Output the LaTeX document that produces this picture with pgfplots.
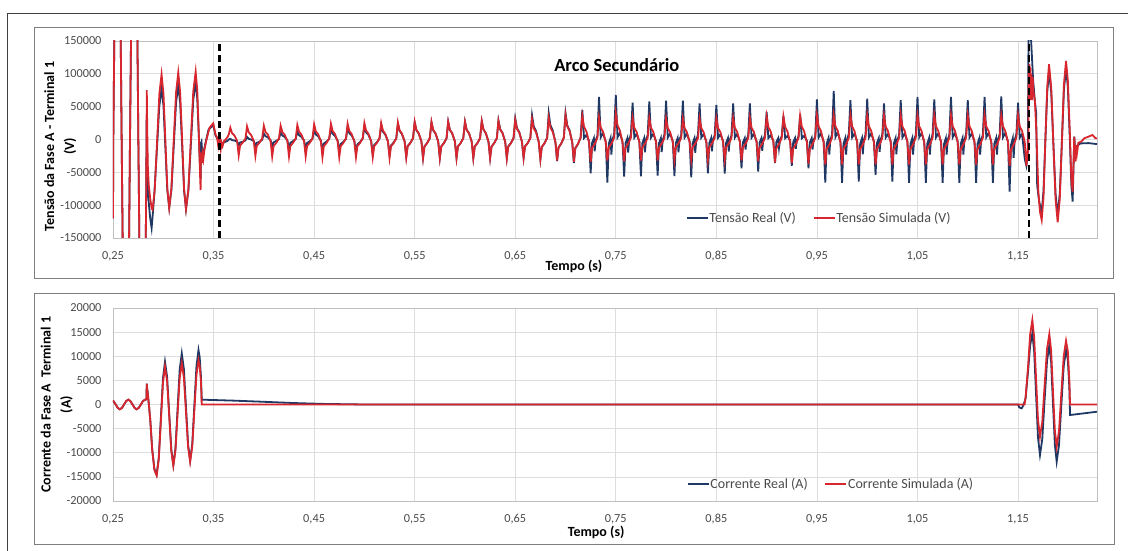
\documentclass[border=0pt]{standalone}
\usepackage{fontspec}
\setmainfont{Carlito}
\usepackage{pgfplots}
\pgfplotsset{compat=1.18}

\definecolor{real}{HTML}{1F3864}
\definecolor{sim}{HTML}{D7262E}
\definecolor{gridc}{HTML}{DDDDDD}
\definecolor{axisc}{HTML}{BFBFBF}
\definecolor{tickc}{HTML}{4A4A4A}
\definecolor{boxc}{HTML}{7F7F7F}

\pgfplotsset{
  panel/.style={
    scale only axis, width=984pt,
    xmin=0.25, xmax=1.2285,
    xtick={0.25,0.35,0.45,0.55,0.65,0.75,0.85,0.95,1.05,1.15},
    grid=major,
    major grid style={draw=gridc, line width=0.7pt},
    axis line style={draw=axisc, line width=0.8pt},
    major tick length=0pt,
    scaled ticks=false,
    tick label style={font=\fontsize{12.3}{14}\selectfont, text=tickc},
    xticklabel style={yshift=-10pt, /pgf/number format/.cd, fixed, fixed zerofill, precision=2, use comma, assume math mode=true},
    yticklabel style={xshift=-8pt, /pgf/number format/.cd, fixed, 1000 sep={}, assume math mode=true},
    label style={font=\bfseries\fontsize{14}{20}\selectfont, text=black, align=center},
    legend columns=2,
    legend cell align=left,
    legend style={draw=none, fill=none, font=\fontsize{14}{16}\selectfont, text=tickc,
      inner sep=0pt, nodes={inner sep=1pt},
      /tikz/every even column/.append style={column sep=16pt}},
    legend image code/.code={\draw[##1,line width=1.3pt] (0pt,0pt) -- (21pt,0pt);},
  },
}

\begin{document}
\begin{tikzpicture}
\useasboundingbox (0pt,0pt) rectangle (1128pt,551pt);
\draw[black!75, line width=0.9pt] (7pt,0pt) -- (7pt,538pt) -- (1128pt,538pt);
\draw[boxc, line width=0.9pt] (34pt,273pt) rectangle (1113pt,524pt);
\draw[boxc, line width=0.9pt] (34pt,7pt) rectangle (1114pt,258pt);

% ---------------- voltage ----------------
\begin{axis}[panel, at={(113pt,313pt)}, anchor=south west, height=197pt,
  ymin=-150000, ymax=150000,
  ytick={-150000,-100000,-50000,0,50000,100000,150000},
  ylabel={Tensão da Fase A - Terminal 1\\(V)},
  ylabel style={at={(axis description cs:-0.0535,0.465)}, anchor=center},
  xlabel={Tempo (s)},
  xlabel style={at={(axis description cs:0.4685,0)}, anchor=center, yshift=-28pt},
  legend style={at={(axis description cs:0.5823,0.1015)}, anchor=west},
]
% Tensão Real
\addplot[real, line width=1.8pt] coordinates {
(0.2500,-120000)(0.2503,0)(0.2513,150000)(0.2545,420000)(0.2577,150000)(0.2586,0)(0.2596,-150000)(0.2628,-420000)(0.2660,-150000)(0.2669,0)(0.2679,150000)(0.2711,420000)(0.2743,150000)(0.2752,0)(0.2762,-150000)(0.2794,-420000)(0.2826,-150000)
(0.2831,-60000)(0.2834,30000)(0.2837,25000)(0.2842,-66000)(0.2855,-95000)(0.2870,-120000)(0.2884,-135000)(0.2895,-115000)(0.2910,-85000)(0.2935,-20000)(0.2960,50000)(0.2983,78000)
(0.3002,51370)(0.3021,-12900)(0.3040,-77170)(0.3059,-103800)(0.3081,-76440)(0.3104,-10400)(0.3127,55640)(0.3149,83000)(0.3168,55340)(0.3188,-11400)(0.3207,-78140)(0.3226,-105800)(0.3250,-77410)(0.3274,-8900)(0.3298,59610)(0.3322,88000)
(0.3338,62000)(0.3355,0)(0.3365,-40000)(0.3372,-60000)(0.3376,-5000)(0.3380,-3300)(0.3390,-23600)(0.3400,-20000)(0.3420,-5000)(0.3450,15000)(0.3497,22000)(0.3520,6000)(0.3550,-2000)(0.3580,-6000)(0.3610,-4000)(0.3640,-2000)(0.3652,0)
(0.3667,1000)(0.3684,-1000)(0.3707,-1500)(0.3734,-3000)(0.3750,-8000)(0.3764,-4500)(0.3790,-3500)(0.3817,-1500)
(0.3833,4000)(0.3850,1000)(0.3873,0)(0.3900,-2500)(0.3916,-10000)(0.3930,-5000)(0.3956,-3500)(0.3983,-500)
(0.4000,9000)(0.4017,4900)(0.4040,3200)(0.4067,-1100)(0.4083,-11000)(0.4097,-4200)(0.4123,-2200)(0.4150,600)
(0.4167,11000)(0.4184,5900)(0.4207,3900)(0.4234,-1300)(0.4250,-13000)(0.4264,-4900)(0.4290,-2600)(0.4317,800)
(0.4333,12000)(0.4350,6500)(0.4373,4200)(0.4400,-1400)(0.4416,-14000)(0.4430,-5300)(0.4456,-2800)(0.4483,800)
(0.4500,14000)(0.4517,7600)(0.4540,4900)(0.4567,-1700)(0.4583,-16000)(0.4597,-6100)(0.4623,-3200)(0.4650,1000)
(0.4667,16000)(0.4684,8600)(0.4707,5600)(0.4734,-1900)(0.4750,-18000)(0.4764,-6800)(0.4790,-3600)(0.4817,1100)
(0.4833,18000)(0.4850,9700)(0.4873,6300)(0.4900,-2200)(0.4916,-20000)(0.4930,-7600)(0.4956,-4000)(0.4983,1300)
(0.5000,20000)(0.5017,10800)(0.5040,7000)(0.5067,-2400)(0.5083,-22000)(0.5097,-8400)(0.5123,-4400)(0.5150,1400)
(0.5167,22000)(0.5184,11900)(0.5207,7700)(0.5234,-2600)(0.5250,-24000)(0.5264,-9100)(0.5290,-4800)(0.5317,1500)
(0.5333,24000)(0.5350,13000)(0.5373,8400)(0.5400,-2900)(0.5416,-26000)(0.5430,-9900)(0.5456,-5200)(0.5483,1700)
(0.5500,26000)(0.5517,14000)(0.5540,9100)(0.5567,-3100)(0.5583,-28000)(0.5597,-10600)(0.5623,-5600)(0.5650,1800)
(0.5667,26000)(0.5684,14000)(0.5707,9100)(0.5734,-3100)(0.5750,-28000)(0.5764,-10600)(0.5790,-5600)(0.5817,1800)
(0.5833,27000)(0.5850,14600)(0.5873,9500)(0.5900,-3200)(0.5916,-28000)(0.5930,-10600)(0.5956,-5600)(0.5983,1900)
(0.6000,27000)(0.6017,14600)(0.6040,9500)(0.6067,-3200)(0.6083,-28000)(0.6097,-10600)(0.6123,-5600)(0.6150,1900)
(0.6167,28000)(0.6184,15100)(0.6207,9800)(0.6234,-3400)(0.6250,-28000)(0.6264,-10600)(0.6290,-5600)(0.6317,2000)
(0.6333,29000)(0.6350,15700)(0.6373,10200)(0.6400,-3500)(0.6416,-28000)(0.6430,-10600)(0.6456,-5600)(0.6483,2000)
(0.6500,32000)(0.6517,17300)(0.6540,11200)(0.6567,-3800)(0.6583,-28000)(0.6597,-10600)(0.6623,-5600)(0.6650,2200)
(0.6667,37000)(0.6684,20000)(0.6707,13000)(0.6734,-4400)(0.6750,-30000)(0.6764,-11400)(0.6790,-6000)(0.6817,2600)
(0.6833,40000)(0.6850,21600)(0.6873,14000)(0.6900,-4800)(0.6916,-33000)(0.6930,-12500)(0.6956,-6600)(0.6983,2800)
(0.7000,40000)(0.7017,21600)(0.7040,14000)(0.7067,-4800)(0.7083,-36000)(0.7097,-13700)(0.7123,-7200)(0.7150,2800)
(0.7167,45000)(0.7184,2300)(0.7207,6800)(0.7234,-2300)(0.7250,-51500)(0.7264,-5200)(0.7282,2000)(0.7290,-18000)(0.7300,-1000)(0.7317,5400)
(0.7333,65000)(0.7350,3300)(0.7373,9800)(0.7400,-3300)(0.7416,-65800)(0.7430,-6600)(0.7448,2000)(0.7456,-23000)(0.7466,-1000)(0.7483,7800)
(0.7500,68000)(0.7517,3400)(0.7540,10200)(0.7567,-3400)(0.7583,-56600)(0.7597,-5700)(0.7615,2000)(0.7623,-19800)(0.7633,-1000)(0.7650,8200)
(0.7667,56000)(0.7684,2800)(0.7707,8400)(0.7734,-2800)(0.7750,-56000)(0.7764,-5600)(0.7782,2000)(0.7790,-19600)(0.7800,-1000)(0.7817,6700)
(0.7833,58000)(0.7850,2900)(0.7873,8700)(0.7900,-2900)(0.7916,-55000)(0.7930,-5500)(0.7948,2000)(0.7956,-19300)(0.7966,-1000)(0.7983,7000)
(0.8000,59000)(0.8017,3000)(0.8040,8900)(0.8067,-3000)(0.8083,-55600)(0.8097,-5600)(0.8115,2000)(0.8123,-19500)(0.8133,-1000)(0.8150,7100)
(0.8167,59000)(0.8184,3000)(0.8207,8900)(0.8234,-3000)(0.8250,-57600)(0.8264,-5800)(0.8282,2000)(0.8290,-20200)(0.8300,-1000)(0.8317,7100)
(0.8333,55000)(0.8350,2800)(0.8373,8300)(0.8400,-2800)(0.8416,-51500)(0.8430,-5200)(0.8448,2000)(0.8456,-18000)(0.8466,-1000)(0.8483,6600)
(0.8500,52500)(0.8517,2600)(0.8540,7900)(0.8567,-2600)(0.8583,-52000)(0.8597,-5200)(0.8615,2000)(0.8623,-18200)(0.8633,-1000)(0.8650,6300)
(0.8667,55000)(0.8684,2800)(0.8707,8300)(0.8734,-2800)(0.8750,-44000)(0.8764,-4400)(0.8782,2000)(0.8790,-15400)(0.8800,-1000)(0.8817,6600)
(0.8833,55000)(0.8850,2800)(0.8873,8300)(0.8900,-2800)(0.8916,-49000)(0.8930,-4900)(0.8948,2000)(0.8956,-17200)(0.8966,-1000)(0.8983,6600)
(0.9000,42000)(0.9017,2100)(0.9040,6300)(0.9067,-2100)(0.9083,-36000)(0.9097,-3600)(0.9115,2000)(0.9123,-12600)(0.9133,-1000)(0.9150,5000)
(0.9167,36000)(0.9184,1800)(0.9207,5400)(0.9234,-1800)(0.9250,-40000)(0.9264,-4000)(0.9282,2000)(0.9290,-14000)(0.9300,-1000)(0.9317,4300)
(0.9333,38000)(0.9350,1900)(0.9373,5700)(0.9400,-1900)(0.9416,-44000)(0.9430,-4400)(0.9448,2000)(0.9456,-15400)(0.9466,-1000)(0.9483,4600)
(0.9500,61000)(0.9517,3100)(0.9540,9200)(0.9567,-3100)(0.9583,-65800)(0.9597,-6600)(0.9615,2000)(0.9623,-23000)(0.9633,-1000)(0.9650,7300)
(0.9667,74000)(0.9684,3700)(0.9707,11100)(0.9734,-3700)(0.9750,-66000)(0.9764,-6600)(0.9782,2000)(0.9790,-23100)(0.9800,-1000)(0.9817,8900)
(0.9833,60000)(0.9850,3000)(0.9873,9000)(0.9900,-3000)(0.9916,-64000)(0.9930,-6400)(0.9948,2000)(0.9956,-22400)(0.9966,-1000)(0.9983,7200)
(1.0000,62000)(1.0017,3100)(1.0040,9300)(1.0067,-3100)(1.0083,-54000)(1.0097,-5400)(1.0115,2000)(1.0123,-18900)(1.0133,-1000)(1.0150,7400)
(1.0167,55000)(1.0184,2800)(1.0207,8300)(1.0234,-2800)(1.0250,-64000)(1.0264,-6400)(1.0282,2000)(1.0290,-22400)(1.0300,-1000)(1.0317,6600)
(1.0333,60000)(1.0350,3000)(1.0373,9000)(1.0400,-3000)(1.0416,-66000)(1.0430,-6600)(1.0448,2000)(1.0456,-23100)(1.0466,-1000)(1.0483,7200)
(1.0500,65000)(1.0517,3300)(1.0540,9800)(1.0567,-3300)(1.0583,-66000)(1.0597,-6600)(1.0615,2000)(1.0623,-23100)(1.0633,-1000)(1.0650,7800)
(1.0667,61000)(1.0684,3100)(1.0707,9200)(1.0734,-3100)(1.0750,-66000)(1.0764,-6600)(1.0782,2000)(1.0790,-23100)(1.0800,-1000)(1.0817,7300)
(1.0833,65000)(1.0850,3300)(1.0873,9800)(1.0900,-3300)(1.0916,-66000)(1.0930,-6600)(1.0948,2000)(1.0956,-23100)(1.0966,-1000)(1.0983,7800)
(1.1000,60000)(1.1017,3000)(1.1040,9000)(1.1067,-3000)(1.1083,-66000)(1.1097,-6600)(1.1115,2000)(1.1123,-23100)(1.1133,-1000)(1.1150,7200)
(1.1167,65000)(1.1184,3300)(1.1207,9800)(1.1234,-3300)(1.1250,-66000)(1.1264,-6600)(1.1282,2000)(1.1290,-23100)(1.1300,-1000)(1.1317,7800)
(1.1333,65500)(1.1350,3300)(1.1373,9800)(1.1400,-3300)(1.1416,-79500)(1.1430,-8000)(1.1448,2000)(1.1456,-27800)(1.1466,-1000)(1.1483,7900)
(1.1500,56000)(1.1517,2800)(1.1540,8400)(1.1567,-30000)(1.1583,-40000)(1.1597,-20000)(1.1604,160000)(1.1630,150000)(1.1650,90000)(1.1668,57600)(1.1680,40000)(1.1690,-70000)(1.1710,-95000)(1.1735,-110000)
(1.1753,-78750)(1.1771,-3350)(1.1790,72050)(1.1808,103300)(1.1830,71320)(1.1851,-5850)(1.1873,-83020)(1.1894,-115000)(1.1915,-82270)(1.1936,-3300)(1.1956,75670)(1.1977,108400)
(1.1995,80000)(1.2015,0)(1.2030,-70000)(1.2043,-94700)(1.2059,4300)(1.2070,-20000)(1.2085,-10000)(1.2120,-6000)(1.2200,-5500)(1.2285,-7000)
};
% Tensão Simulada
\addplot[sim, line width=1.8pt] coordinates {
(0.2500,-120000)(0.2503,0)(0.2513,150000)(0.2545,420000)(0.2577,150000)(0.2586,0)(0.2596,-150000)(0.2628,-420000)(0.2660,-150000)(0.2669,0)(0.2679,150000)(0.2711,420000)(0.2743,150000)(0.2752,0)(0.2762,-150000)(0.2794,-420000)(0.2826,-150000)
(0.2831,-60000)(0.2836,75000)(0.2840,20000)(0.2846,-40000)(0.2856,-70000)(0.2870,-90000)(0.2885,-105000)(0.2893,-107000)
(0.2915,-76800)(0.2938,-3850)(0.2961,69100)(0.2983,99300)(0.3002,69550)(0.3021,-2250)(0.3040,-74050)(0.3059,-103800)(0.3081,-73680)(0.3104,-1000)(0.3127,71680)(0.3149,101800)(0.3168,71390)(0.3188,-2000)(0.3207,-75390)(0.3226,-105800)(0.3250,-75170)(0.3274,-1250)(0.3298,72670)(0.3322,103300)
(0.3338,75000)(0.3355,0)(0.3365,-50000)(0.3371,-77000)(0.3374,-30000)(0.3378,-20000)(0.3384,-36000)(0.3390,-22000)(0.3398,-30000)(0.3410,-15000)(0.3430,0)(0.3460,18000)(0.3497,24700)(0.3520,7000)(0.3535,3000)(0.3545,-8000)(0.3552,2000)(0.3558,-12000)(0.3565,-3000)(0.3572,-14000)(0.3580,-5000)(0.3590,-10000)(0.3605,-2000)(0.3620,0)(0.3640,4000)(0.3652,8000)
(0.3667,18000)(0.3684,9700)(0.3707,6300)(0.3734,-2200)(0.3750,-24000)(0.3764,-9100)(0.3790,-4800)(0.3817,1300)
(0.3833,20000)(0.3850,10800)(0.3873,7000)(0.3900,-2400)(0.3916,-25000)(0.3930,-9500)(0.3956,-5000)(0.3983,1400)
(0.4000,21000)(0.4017,11300)(0.4040,7400)(0.4067,-2500)(0.4083,-26000)(0.4097,-9900)(0.4123,-5200)(0.4150,1500)
(0.4167,21000)(0.4184,11300)(0.4207,7400)(0.4234,-2500)(0.4250,-26000)(0.4264,-9900)(0.4290,-5200)(0.4317,1500)
(0.4333,22000)(0.4350,11900)(0.4373,7700)(0.4400,-2600)(0.4416,-26000)(0.4430,-9900)(0.4456,-5200)(0.4483,1500)
(0.4500,23000)(0.4517,12400)(0.4540,8100)(0.4567,-2800)(0.4583,-27000)(0.4597,-10300)(0.4623,-5400)(0.4650,1600)
(0.4667,24000)(0.4684,13000)(0.4707,8400)(0.4734,-2900)(0.4750,-27000)(0.4764,-10300)(0.4790,-5400)(0.4817,1700)
(0.4833,24000)(0.4850,13000)(0.4873,8400)(0.4900,-2900)(0.4916,-27000)(0.4930,-10300)(0.4956,-5400)(0.4983,1700)
(0.5000,25000)(0.5017,13500)(0.5040,8800)(0.5067,-3000)(0.5083,-27000)(0.5097,-10300)(0.5123,-5400)(0.5150,1800)
(0.5167,25000)(0.5184,13500)(0.5207,8800)(0.5234,-3000)(0.5250,-28000)(0.5264,-10600)(0.5290,-5600)(0.5317,1800)
(0.5333,26000)(0.5350,14000)(0.5373,9100)(0.5400,-3100)(0.5416,-28000)(0.5430,-10600)(0.5456,-5600)(0.5483,1800)
(0.5500,27000)(0.5517,14600)(0.5540,9500)(0.5567,-3200)(0.5583,-28500)(0.5597,-10800)(0.5623,-5700)(0.5650,1900)
(0.5667,27000)(0.5684,14600)(0.5707,9500)(0.5734,-3200)(0.5750,-28500)(0.5764,-10800)(0.5790,-5700)(0.5817,1900)
(0.5833,27000)(0.5850,14600)(0.5873,9500)(0.5900,-3200)(0.5916,-28500)(0.5930,-10800)(0.5956,-5700)(0.5983,1900)
(0.6000,27000)(0.6017,14600)(0.6040,9500)(0.6067,-3200)(0.6083,-28500)(0.6097,-10800)(0.6123,-5700)(0.6150,1900)
(0.6167,28000)(0.6184,15100)(0.6207,9800)(0.6234,-3400)(0.6250,-28500)(0.6264,-10800)(0.6290,-5700)(0.6317,2000)
(0.6333,28000)(0.6350,15100)(0.6373,9800)(0.6400,-3400)(0.6416,-29000)(0.6430,-11000)(0.6456,-5800)(0.6483,2000)
(0.6500,30000)(0.6517,16200)(0.6540,10500)(0.6567,-3600)(0.6583,-28000)(0.6597,-10600)(0.6623,-5600)(0.6650,2100)
(0.6667,31000)(0.6684,16700)(0.6707,10900)(0.6734,-3700)(0.6750,-30000)(0.6764,-11400)(0.6790,-6000)(0.6817,2200)
(0.6833,33000)(0.6850,17800)(0.6873,11600)(0.6900,-4000)(0.6916,-32000)(0.6930,-12200)(0.6956,-6400)(0.6983,2300)
(0.7000,37000)(0.7017,20000)(0.7040,13000)(0.7067,-4400)(0.7083,-34000)(0.7097,-12900)(0.7123,-6800)(0.7150,2600)
(0.7167,36000)(0.7184,19400)(0.7207,12600)(0.7234,-4300)(0.7250,-34000)(0.7264,-12900)(0.7290,-6800)(0.7317,2500)
(0.7333,34000)(0.7350,18400)(0.7373,11900)(0.7400,-4100)(0.7416,-32000)(0.7430,-12200)(0.7456,-6400)(0.7483,2400)
(0.7500,40000)(0.7517,21600)(0.7540,14000)(0.7567,-4800)(0.7583,-33000)(0.7597,-12500)(0.7623,-6600)(0.7650,2800)
(0.7667,33000)(0.7684,17800)(0.7707,11600)(0.7734,-4000)(0.7750,-32000)(0.7764,-12200)(0.7790,-6400)(0.7817,2300)
(0.7833,33000)(0.7850,17800)(0.7873,11600)(0.7900,-4000)(0.7916,-32000)(0.7930,-12200)(0.7956,-6400)(0.7983,2300)
(0.8000,32000)(0.8017,17300)(0.8040,11200)(0.8067,-3800)(0.8083,-31000)(0.8097,-11800)(0.8123,-6200)(0.8150,2200)
(0.8167,32000)(0.8184,17300)(0.8207,11200)(0.8234,-3800)(0.8250,-31000)(0.8264,-11800)(0.8290,-6200)(0.8317,2200)
(0.8333,32000)(0.8350,17300)(0.8373,11200)(0.8400,-3800)(0.8416,-31000)(0.8430,-11800)(0.8456,-6200)(0.8483,2200)
(0.8500,32000)(0.8517,17300)(0.8540,11200)(0.8567,-3800)(0.8583,-31000)(0.8597,-11800)(0.8623,-6200)(0.8650,2200)
(0.8667,33000)(0.8684,17800)(0.8707,11600)(0.8734,-4000)(0.8750,-32000)(0.8764,-12200)(0.8790,-6400)(0.8817,2300)
(0.8833,33000)(0.8850,17800)(0.8873,11600)(0.8900,-4000)(0.8916,-33000)(0.8930,-12500)(0.8956,-6600)(0.8983,2300)
(0.9000,35000)(0.9017,18900)(0.9040,12300)(0.9067,-4200)(0.9083,-35000)(0.9097,-13300)(0.9123,-7000)(0.9150,2500)
(0.9167,35000)(0.9184,18900)(0.9207,12300)(0.9234,-4200)(0.9250,-36000)(0.9264,-13700)(0.9290,-7200)(0.9317,2500)
(0.9333,36000)(0.9350,19400)(0.9373,12600)(0.9400,-4300)(0.9416,-37000)(0.9430,-14100)(0.9456,-7400)(0.9483,2500)
(0.9500,37000)(0.9517,20000)(0.9540,13000)(0.9567,-4400)(0.9583,-38000)(0.9597,-14400)(0.9623,-7600)(0.9650,2600)
(0.9667,37000)(0.9684,20000)(0.9707,13000)(0.9734,-4400)(0.9750,-38000)(0.9764,-14400)(0.9790,-7600)(0.9817,2600)
(0.9833,37000)(0.9850,20000)(0.9873,13000)(0.9900,-4400)(0.9916,-38000)(0.9930,-14400)(0.9956,-7600)(0.9983,2600)
(1.0000,37000)(1.0017,20000)(1.0040,13000)(1.0067,-4400)(1.0083,-38000)(1.0097,-14400)(1.0123,-7600)(1.0150,2600)
(1.0167,36000)(1.0184,19400)(1.0207,12600)(1.0234,-4400)(1.0250,-38000)(1.0264,-14400)(1.0290,-7600)(1.0317,2600)
(1.0333,37000)(1.0350,20000)(1.0373,13000)(1.0400,-4400)(1.0416,-38000)(1.0430,-14400)(1.0456,-7600)(1.0483,2600)
(1.0500,37000)(1.0517,20000)(1.0540,13000)(1.0567,-4400)(1.0583,-38000)(1.0597,-14400)(1.0623,-7600)(1.0650,2600)
(1.0667,37000)(1.0684,20000)(1.0707,13000)(1.0734,-4400)(1.0750,-38000)(1.0764,-14400)(1.0790,-7600)(1.0817,2600)
(1.0833,37000)(1.0850,20000)(1.0873,13000)(1.0900,-4400)(1.0916,-38000)(1.0930,-14400)(1.0956,-7600)(1.0983,2600)
(1.1000,37000)(1.1017,20000)(1.1040,13000)(1.1067,-4400)(1.1083,-38000)(1.1097,-14400)(1.1123,-7600)(1.1150,2600)
(1.1167,37000)(1.1184,20000)(1.1207,13000)(1.1234,-4400)(1.1250,-38000)(1.1264,-14400)(1.1290,-7600)(1.1317,2600)
(1.1333,37000)(1.1350,20000)(1.1373,13000)(1.1400,-4400)(1.1416,-40000)(1.1430,-15200)(1.1456,-8000)(1.1483,2600)
(1.1500,37000)(1.1517,20000)(1.1540,13000)(1.1567,-4400)(1.1583,-40000)(1.1597,-15200)(1.1602,-20000)
(1.1606,110000)(1.1610,70000)(1.1614,115000)(1.1618,60000)(1.1622,110000)(1.1627,65000)(1.1632,100000)(1.1638,60000)(1.1645,95000)(1.1655,70000)(1.1668,57600)(1.1685,0)(1.1702,-79500)(1.1718,-110000)(1.1735,-122600)
(1.1753,-87850)(1.1771,-4050)(1.1790,79750)(1.1808,114500)(1.1830,79250)(1.1851,-5800)(1.1873,-90850)(1.1894,-126100)(1.1915,-90120)(1.1936,-3300)(1.1956,83520)(1.1977,119500)
(1.1995,90000)(1.2015,10000)(1.2030,-60000)(1.2043,-79500)(1.2059,4300)(1.2068,-33800)(1.2075,-8400)(1.2085,-22000)(1.2100,-5000)(1.2130,-3000)(1.2160,2000)(1.2200,4300)(1.2240,6900)(1.2270,1800)(1.2285,2000)
};
\addplot[black, line width=2.2pt, dash pattern=on 7pt off 4pt, forget plot] coordinates {(0.356,-150000)(0.356,150000)};
\addplot[black, line width=2.2pt, dash pattern=on 7pt off 4pt, forget plot] coordinates {(1.161,-150000)(1.161,150000)};
\node[font=\bfseries\fontsize{18.5}{20}\selectfont] at (axis description cs:0.512,0.878) {Arco Secundário};
\legend{Tensão Real (V), Tensão Simulada (V)}
\end{axis}

% ---------------- current ----------------
\begin{axis}[panel, at={(113pt,50pt)}, anchor=south west, height=193pt,
  ymin=-20000, ymax=20000,
  ytick={-20000,-15000,-10000,-5000,0,5000,10000,15000,20000},
  ylabel={Corrente da Fase A \ Terminal 1\\(A)},
  ylabel style={at={(axis description cs:-0.0572,0.5)}, anchor=center},
  xlabel={Tempo (s)},
  xlabel style={at={(axis description cs:0.491,0)}, anchor=center, yshift=-31pt},
  legend style={at={(axis description cs:0.5833,0.088)}, anchor=west},
]
% Corrente Real
\addplot[real, line width=1.8pt] coordinates {
(0.2500,844)(0.2526,25)(0.2547,-694)(0.2568,-1000)(0.2589,-706)(0.2610,0)(0.2631,707)(0.2652,1000)(0.2673,707)(0.2694,0)(0.2715,-707)(0.2735,-1000)(0.2756,-707)(0.2777,0)(0.2798,707)(0.2818,1000)(0.2826,1000)(0.2832,1200)
(0.2836,4300)(0.2840,3200)(0.2845,2500)(0.2870,-3000)(0.2890,-9300)(0.2912,-13400)(0.2934,-14500)
(0.2955,-11075)(0.2976,-2815)(0.2997,5445)(0.3017,8870)(0.3038,5740)(0.3059,-1815)(0.3080,-9370)(0.3100,-12500)(0.3121,-9115)(0.3142,-950)(0.3163,7215)(0.3184,10600)
(0.3205,7350)(0.3226,-500)(0.3247,-8350)(0.3267,-11600)(0.3288,-8245)(0.3309,-150)(0.3330,7945)(0.3350,11300)
(0.3362,9800)(0.3374,6000)(0.3380,2500)(0.3382,1000)(0.3700,800)(0.4000,560)(0.4300,300)(0.4600,120)(0.5000,0)(1.1500,0)
(1.1512,-600)(1.1536,-800)(1.1556,0)(1.1575,1300)(1.1600,7000)(1.1620,12200)(1.1642,14750)(1.1660,11055)(1.1679,2140)(1.1698,-6775)(1.1718,-10470)(1.1741,-7130)(1.1764,930)(1.1788,8990)(1.1811,12330)
(1.1829,8790)(1.1847,240)(1.1866,-8310)(1.1884,-11850)(1.1907,-8460)(1.1930,-275)(1.1954,7910)(1.1977,11300)(1.1995,9200)(1.2010,3500)(1.2017,-2180)(1.2285,-1500)
};
% Corrente Simulada
\addplot[sim, line width=1.8pt] coordinates {
(0.2500,844)(0.2526,25)(0.2547,-694)(0.2568,-1000)(0.2589,-706)(0.2610,0)(0.2631,707)(0.2652,1000)(0.2673,707)(0.2694,0)(0.2715,-707)(0.2735,-1000)(0.2756,-707)(0.2777,0)(0.2798,707)(0.2818,1000)(0.2826,1000)(0.2832,1200)
(0.2836,4300)(0.2840,3200)(0.2845,2500)(0.2870,-3000)(0.2890,-9500)(0.2912,-13600)(0.2934,-14750)
(0.2955,-11440)(0.2976,-3460)(0.2997,4520)(0.3017,7830)(0.3038,4800)(0.3059,-2425)(0.3080,-9675)(0.3100,-12680)(0.3121,-9570)(0.3142,-2070)(0.3163,5430)(0.3184,8540)
(0.3205,5550)(0.3226,-1655)(0.3247,-8860)(0.3267,-11850)(0.3288,-8765)(0.3309,-1315)(0.3330,6135)(0.3350,9220)
(0.3362,8000)(0.3374,5000)(0.3380,2000)(0.3382,0)(1.1565,0)
(1.1575,1500)(1.1600,8000)(1.1620,14500)(1.1642,17500)(1.1660,13960)(1.1679,5415)(1.1698,-3130)(1.1718,-6670)(1.1741,-3555)(1.1764,3965)(1.1788,11485)(1.1811,14600)
(1.1829,11180)(1.1847,2925)(1.1866,-5330)(1.1884,-8750)(1.1907,-5535)(1.1930,2225)(1.1954,9985)(1.1977,13200)(1.1995,11000)(1.2010,5000)(1.2017,0)(1.2285,0)
};
\legend{Corrente Real (A), Corrente Simulada (A)}
\end{axis}
\end{tikzpicture}
\end{document}
